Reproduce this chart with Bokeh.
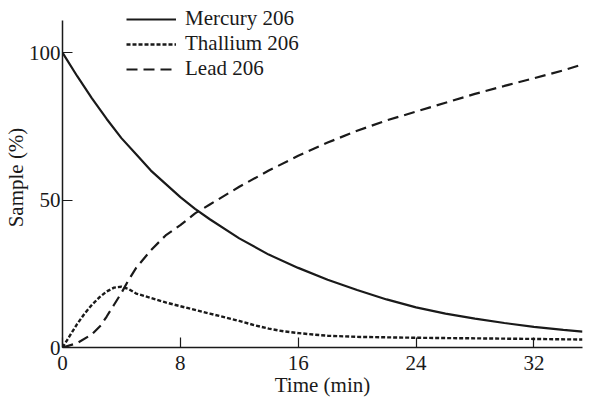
from bokeh.plotting import figure
from bokeh.models import Range1d, FixedTicker, Legend, LegendItem
from bokeh.embed import file_html
from bokeh.resources import INLINE

# Data
mercury_t = [0, 1, 2, 3, 4, 5, 6, 7, 8, 9, 10, 12, 14, 16, 18, 20, 22, 24, 26, 28, 30, 32, 34, 35.3]
mercury_v = [100, 92, 84.5, 77.5, 71, 65.5, 60, 55.5, 51, 47, 43.5, 37, 31.5, 27, 23, 19.5, 16.3, 13.6, 11.5, 9.8, 8.3, 7.0, 6.0, 5.4]

thallium_t = [0, 0.5, 1, 1.5, 2, 2.5, 3, 3.5, 4, 4.5, 5, 6, 7, 8, 10, 12, 13, 14, 15, 16, 17, 18, 20, 24, 28, 32, 35.3]
thallium_v = [0, 4, 8, 11.5, 14.5, 17, 19, 20.3, 20.6, 19.8, 18.3, 16.8, 15.3, 14, 11.5, 9, 7.6, 6.4, 5.5, 4.9, 4.4, 4.0, 3.6, 3.3, 3.1, 2.9, 2.7]

lead_t = [0, 1, 2, 2.6, 3, 3.5, 4, 4.5, 5, 6, 7, 8, 9, 10, 12, 14, 16, 18, 20, 22, 24, 26, 28, 30, 32, 34, 35.3]
lead_v = [0, 1.5, 4.5, 7.5, 10.5, 14.5, 18.5, 23, 27, 33, 38, 41.5, 45.5, 48.5, 54.5, 60, 65, 69.5, 73.5, 77, 80, 83, 86, 88.7, 91.3, 94, 96]

x_ticks = [0, 8, 16, 24, 32]
y_ticks = [0, 50, 100]

FONT = "Liberation Serif"
INK = "#1a1a1a"

p = figure(frame_width=520, frame_height=340, output_backend="svg", toolbar_location=None,
           x_range=Range1d(0, 35.3), y_range=Range1d(0, 115.3),
           min_border_left=62, min_border_right=16, min_border_top=7, min_border_bottom=45)
p.grid.visible = False
p.outline_line_color = None
p.background_fill_color = "white"
p.border_fill_color = "white"

r1 = p.line(mercury_t, mercury_v, line_color=INK, line_width=2.2)
r2 = p.line(thallium_t, thallium_v, line_color=INK, line_width=2.4, line_dash="4 2")
r3 = p.line(lead_t, lead_v, line_color=INK, line_width=2.2, line_dash="11 6")

for ax in (p.xaxis[0], p.yaxis[0]):
    ax.axis_line_color = INK
    ax.axis_line_width = 1.5
    ax.major_tick_line_color = INK
    ax.major_tick_line_width = 1.2
    ax.major_tick_in = 10
    ax.major_tick_out = 0
    ax.minor_tick_line_color = None
    ax.major_label_text_font = FONT
    ax.major_label_text_font_size = "21px"
    ax.major_label_text_color = INK
    ax.axis_label_text_font = FONT
    ax.axis_label_text_font_size = "21px"
    ax.axis_label_text_font_style = "normal"
    ax.axis_label_text_color = INK

p.xaxis[0].ticker = FixedTicker(ticks=x_ticks)
p.yaxis[0].ticker = FixedTicker(ticks=y_ticks)
p.xaxis[0].axis_label = "Time (min)"
p.yaxis[0].axis_label = "Sample (%)"
p.xaxis[0].major_label_standoff = 8
p.yaxis[0].major_label_standoff = 2
p.xaxis[0].axis_label_standoff = 0
p.yaxis[0].axis_label_standoff = -2
p.yaxis[0].bounds = (0, 110.8)

legend = Legend(items=[
    LegendItem(label="Mercury 206", renderers=[r1]),
    LegendItem(label="Thallium 206", renderers=[r2]),
    LegendItem(label="Lead 206", renderers=[r3]),
], location=(64, 266))
legend.label_text_font = FONT
legend.label_text_font_size = "21px"
legend.label_text_color = INK
legend.glyph_width = 50
legend.glyph_height = 24
legend.label_height = 24
legend.label_standoff = 9
legend.spacing = 0
legend.padding = 0
legend.margin = 0
legend.border_line_color = None
legend.background_fill_alpha = 0
p.add_layout(legend, "center")

open("out.html", "w").write(file_html(p, INLINE))
